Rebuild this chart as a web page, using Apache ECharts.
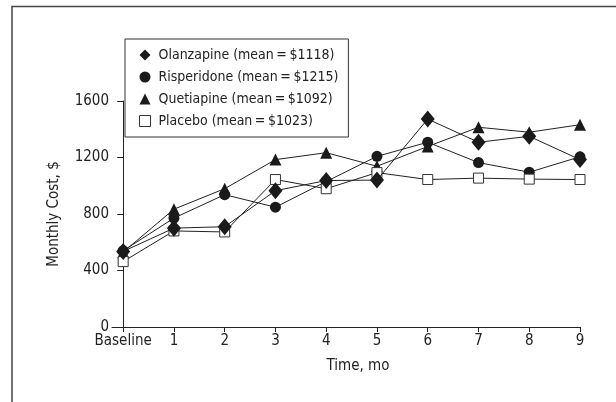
<!DOCTYPE html>
<html>
<head>
<meta charset="utf-8">
<script src="https://cdn.jsdelivr.net/npm/echarts@6/dist/echarts.min.js"></script>
<style>
html,body{margin:0;padding:0;background:#fff;}
#c{width:616px;height:402px;}
</style>
</head>
<body>
<div id="c"></div>
<script>
var months = [0,1,2,3,4,5,6,7,8,9];
var monthLabels = ['Baseline','1','2','3','4','5','6','7','8','9'];
var olanzapine = [535,700,710,965,1037,1040,1472,1308,1350,1185];
var risperidone = [540,771,937,848,1030,1208,1308,1164,1096,1205];
var quetiapine = [530,834,979,1185,1234,1138,1278,1414,1379,1432];
var placebo = [463,680,673,1044,979,1093,1044,1054,1047,1044];
var yTicks = [0,400,800,1200,1600];
var names = ['Olanzapine (mean\u2009=\u2009$1118)','Risperidone (mean\u2009=\u2009$1215)','Quetiapine (mean\u2009=\u2009$1092)','Placebo (mean\u2009=\u2009$1023)'];

var FONT = '"Liberation Sans Narrow","DejaVu Sans Condensed",sans-serif';
function pairs(arr){ return months.map(function(m,i){ return [m, arr[i]]; }); }
function ser(name, data, symbol, size, fill, z){
  return {
    name: name, type: 'line', data: pairs(data), symbol: symbol, symbolSize: size,
    z: z, animation: false,
    lineStyle: {color: '#222', width: 1},
    itemStyle: {color: fill, borderColor: '#333', borderWidth: fill === '#fff' ? 1 : 0}
  };
}
var chart = echarts.init(document.getElementById('c'), null, {renderer: 'canvas'});
chart.setOption({
  backgroundColor: '#fff',
  animation: false,
  textStyle: {fontFamily: FONT},
  graphic: [{
    type: 'polyline', silent: true,
    shape: {points: [[12,402],[12,6.5],[616,6.5]]},
    style: {stroke: '#444', lineWidth: 1.5, fill: null}
  }],
  grid: {left: 112, right: 36, top: 101, bottom: 75, containLabel: false},
  legend: {
    orient: 'vertical', left: 125, top: 39,
    data: [
      {name: names[0], icon: 'diamond', itemStyle: {color: '#1a1a1a', borderWidth: 0}},
      {name: names[1], icon: 'circle', itemStyle: {color: '#1a1a1a', borderWidth: 0}},
      {name: names[2], icon: 'triangle', itemStyle: {color: '#1a1a1a', borderWidth: 0}},
      {name: names[3], icon: 'rect', itemStyle: {color: '#fff', borderColor: '#333', borderWidth: 1}}
    ],
    backgroundColor: '#fff',
    borderColor: '#333', borderWidth: 1,
    padding: [9, 10, 9, 14],
    itemWidth: 11, itemHeight: 11, itemGap: 8,
    textStyle: {fontFamily: FONT, fontSize: 14, color: '#222', lineHeight: 14, padding: [0,0,0,3]}
  },
  xAxis: {
    type: 'value', min: -0.22, max: 9,
    name: 'Time, mo', nameLocation: 'middle', nameGap: 32,
    nameTextStyle: {fontFamily: FONT, fontSize: 15, color: '#222', padding: [0,0,0,24]},
    axisLine: {lineStyle: {color: '#222', width: 1}},
    axisTick: {show: true, length: 5, customValues: months, lineStyle: {color: '#222'}},
    axisLabel: {customValues: months, margin: 7, fontFamily: FONT, fontSize: 15, color: '#222',
      formatter: function(v){ return monthLabels[Math.round(v)]; }},
    splitLine: {show: false}
  },
  yAxis: {
    type: 'value', min: 0, max: 1600, interval: 400,
    name: 'Monthly Cost, $', nameLocation: 'middle', nameGap: 50,
    nameTextStyle: {fontFamily: FONT, fontSize: 15, color: '#222'},
    axisLine: {show: true, lineStyle: {color: '#222', width: 1}},
    axisTick: {show: true, length: 6, lineStyle: {color: '#222'}},
    axisLabel: {margin: 3, fontFamily: FONT, fontSize: 15, color: '#222',
      formatter: function(v){ return yTicks.indexOf(v) >= 0 ? String(v) : ''; }},
    splitLine: {show: false}
  },
  series: [
    ser(names[2], quetiapine, 'triangle', 12, '#1a1a1a', 2),
    ser(names[1], risperidone, 'circle', 11, '#1a1a1a', 3),
    ser(names[3], placebo, 'rect', 10, '#fff', 4),
    ser(names[0], olanzapine, 'diamond', [14,17], '#1a1a1a', 5)
  ]
});
</script>
</body>
</html>
